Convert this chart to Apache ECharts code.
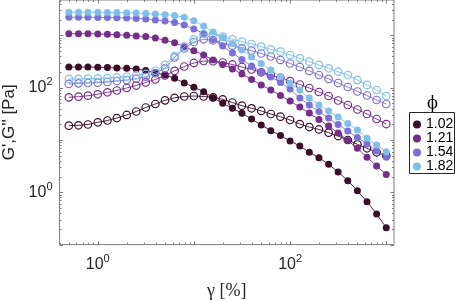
<!DOCTYPE html>
<html><head><meta charset="utf-8">
<script src="https://cdn.jsdelivr.net/npm/echarts@6/dist/echarts.min.js"></script>
<style>html,body{margin:0;padding:0;background:#fff}#c{width:457px;height:301px}</style>
</head><body><div id="c"></div>
<script>
// strain amplitude gamma [%]
const strain = [0.5, 0.63, 0.79, 1, 1.26, 1.58, 2, 2.51, 3.15, 3.97, 5, 6.29, 7.92, 9.97, 12.6, 15.8, 19.9, 25.1, 31.5, 39.7, 50, 62.9, 79.2, 99.7, 126, 158, 199, 251, 315, 397, 500, 629, 792, 997];
const phiLabels = ['1.02', '1.21', '1.54', '1.82'];
// storage modulus G' [Pa]
const gp_102 = [249, 249, 249, 246, 243, 238, 235, 228, 213, 195, 175, 151, 123, 102, 84, 64.4, 50.3, 40.4, 32.4, 25.2, 19.4, 15.1, 12.2, 9.57, 7.68, 5.82, 4.59, 3.43, 2.44, 1.67, 1.07, 0.661, 0.385, 0.21];
const gp_121 = [1078, 1078, 1078, 1064, 1050, 1027, 1005, 974, 953, 892, 806, 725, 608, 510, 422, 339, 278, 228, 183, 143.5, 112.6, 90.4, 70.9, 55.7, 42.8, 32.8, 24.7, 18.5, 13.6, 9.78, 6.94, 4.67, 3.18, 2.19];
const gp_154 = [2219, 2219, 2219, 2209, 2199, 2180, 2151, 2114, 2058, 1970, 1886, 1765, 1581, 1326, 1097, 835, 627, 461, 346, 260, 200, 160, 126, 94.5, 63.6, 46.7, 35.1, 26.3, 19.8, 14.9, 11.2, 8.39, 6.16, 4.67];
const gp_182 = [2765, 2765, 2765, 2765, 2753, 2741, 2717, 2681, 2623, 2566, 2488, 2402, 2219, 1910, 1513, 1162, 912, 700, 526, 387, 290, 218, 164, 121, 90.4, 63.6, 46.7, 35.9, 27.5, 20.7, 15.5, 10.8, 8.02, 5.98];
// loss modulus G'' [Pa]
const gpp_102 = [18.8, 19.1, 19.8, 21.8, 23.6, 26.3, 30.1, 35.1, 41.8, 48.8, 57.4, 64.1, 67.9, 69.4, 67.9, 65.5, 60.0, 52.1, 45.3, 40.4, 35.9, 31.4, 27.9, 24.1, 20.2, 17.7, 15.9, 13.8, 11.9, 10.0, 8.28, 6.94, 5.82, 5.01];
const gpp_121 = [65.5, 67.3, 70.3, 74.8, 81.7, 88.4, 98.7, 110, 126, 143.5, 171, 209, 254, 297, 324, 320, 303, 278, 249, 223, 197, 175, 153, 134, 115, 98.7, 82.8, 69.4, 56.9, 46.7, 38.3, 31.4, 25.2, 20.2];
const gpp_154 = [118, 121, 123, 125, 128.5, 134, 140, 149, 162, 189, 235, 378, 562, 748, 842, 806, 715, 636, 567, 510, 451, 395, 339, 290, 249, 209, 175, 147, 123, 103, 84.6, 70.9, 58.2, 48.8];
const gpp_182 = [147, 147, 149, 151, 153, 158, 162, 173, 183, 211, 272, 404, 608, 842, 1064, 1050, 945, 842, 758, 685, 608, 542, 488, 422, 365, 314, 272, 235, 202, 175, 140, 113, 90.4, 69.4];
// tick label exponents shown (10^n)
const xLabelExponents = [0, 2];
const yLabelExponents = [0, 2];

const colors = ['#3c0d28', '#772b8c', '#7b6fe0', '#80bfeb'];
const gpSets = [gp_102, gp_121, gp_154, gp_182];
const gppSets = [gpp_102, gpp_121, gpp_154, gpp_182];
const axisGray = '#7f7f7f';
const textDark = '#262626';
const X_MIN = 0.4, X_MAX = 1200, Y_MIN = 0.1, Y_MAX = 4750;

function pairs(ys) { return strain.map((x, i) => [x, ys[i]]); }

const series = [];
phiLabels.forEach((lab, k) => {
  series.push({
    name: lab, type: 'line', data: pairs(gpSets[k]),
    symbol: 'circle', symbolSize: 7, z: 3 + k * 2,
    lineStyle: { color: colors[k], width: 0.9 },
    itemStyle: { color: colors[k] }
  });
  series.push({
    name: lab + ' G\'\'', type: 'line', data: pairs(gppSets[k]),
    symbol: 'circle', symbolSize: 7.5, z: 4 + k * 2,
    lineStyle: { color: colors[k], width: 0.9 },
    itemStyle: { color: 'rgba(255,255,255,0)', borderColor: colors[k], borderWidth: 1.2 }
  });
});

// minor/major log ticks on all four sides
const tickData = [];
for (let e = -2; e <= 4; e++) {
  for (let m = 1; m <= 9; m++) {
    const v = m * Math.pow(10, e);
    if (v >= X_MIN && v <= X_MAX) tickData.push([v, 1, 0, m === 1 ? 1 : 0]);
    if (v >= Y_MIN && v <= Y_MAX) tickData.push([1, v, 1, m === 1 ? 1 : 0]);
  }
}
series.push({
  type: 'custom', silent: true, z: 20, data: tickData,
  renderItem: function (params, api) {
    const cs = params.coordSys;
    const kind = api.value(2), major = api.value(3);
    const len = major ? 3.5 : 2;
    const st = { stroke: axisGray, lineWidth: 1 };
    if (kind === 0) {
      const x = Math.round(api.coord([api.value(0), 1])[0]) + 0.5;
      const b = cs.y + cs.height, t = cs.y;
      return { type: 'group', children: [
        { type: 'line', shape: { x1: x, y1: b, x2: x, y2: b - len }, style: st },
        { type: 'line', shape: { x1: x, y1: t, x2: x, y2: t + len }, style: st }
      ] };
    } else {
      const y = Math.round(api.coord([1, api.value(1)])[1]) + 0.5;
      const l = cs.x, r = cs.x + cs.width;
      return { type: 'group', children: [
        { type: 'line', shape: { x1: l, y1: y, x2: l + len, y2: y }, style: st },
        { type: 'line', shape: { x1: r, y1: y, x2: r - len, y2: y }, style: st }
      ] };
    }
  }
});

function logFmt(exps) {
  return function (v) {
    const lg = Math.log10(v), e = Math.round(lg);
    if (Math.abs(lg - e) > 1e-6) return '';
    return exps.indexOf(e) >= 0 ? '{b|10}{s|' + e + '}' : '';
  };
}
const rich = {
  b: { fontSize: 16, fontFamily: 'Liberation Sans', color: textDark },
  s: { fontSize: 11, fontFamily: 'Liberation Sans', color: textDark, padding: [0, 0, 11, 0] }
};

const chart = echarts.init(document.getElementById('c'), null, { renderer: 'canvas' });
chart.setOption({
  animation: false,
  backgroundColor: '#fff',
  grid: { left: 59.5, right: 63, top: 0, bottom: 56.4, show: true, borderColor: axisGray, borderWidth: 1,
          containLabel: false, outerBoundsMode: 'none' },
  xAxis: {
    type: 'log', logBase: 10, min: X_MIN, max: X_MAX,
    axisLine: { show: false }, axisTick: { show: false }, splitLine: { show: false }, minorTick: { show: false },
    axisLabel: { formatter: logFmt(xLabelExponents), rich: rich, margin: 9 },
    name: 'γ [%]', nameLocation: 'middle', nameGap: 38,
    nameTextStyle: { fontSize: 18, fontFamily: 'Liberation Serif', color: textDark }
  },
  yAxis: {
    type: 'log', logBase: 10, min: Y_MIN, max: Y_MAX,
    axisLine: { show: false }, axisTick: { show: false }, splitLine: { show: false }, minorTick: { show: false },
    axisLabel: { formatter: logFmt(yLabelExponents), rich: rich, margin: 7 },
    name: 'G\',G\'\' [Pa]', nameLocation: 'middle', nameGap: 38, nameRotate: 90,
    nameTextStyle: { fontSize: 17, fontFamily: 'Liberation Sans', color: textDark }
  },
  legend: {
    data: phiLabels, orient: 'vertical', left: 413, top: 117.6, padding: 0,
    itemWidth: 8, itemHeight: 8, itemGap: 0, icon: 'circle',
    textStyle: { fontSize: 14, lineHeight: 11.3, fontFamily: 'Liberation Sans', color: '#000' }
  },
  graphic: [
    { type: 'rect', z: 1, shape: { x: 409.5, y: 112.5, width: 45, height: 61 }, style: { fill: '#fff', stroke: textDark, lineWidth: 1 } },
    { type: 'text', z: 2, x: 432.5, y: 104, style: { text: 'ϕ', fontSize: 16, fontFamily: 'DejaVu Serif', fill: '#000', textAlign: 'center', textVerticalAlign: 'middle' } }
  ],
  series: series
});
</script></body></html>
